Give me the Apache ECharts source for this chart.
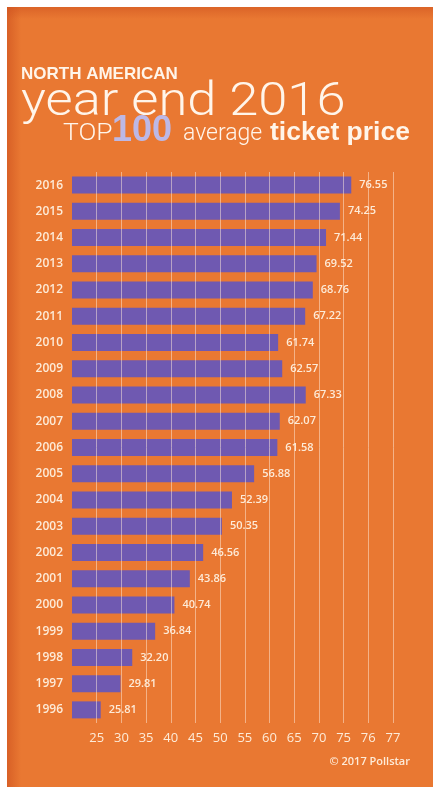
<!DOCTYPE html>
<html>
<head>
<meta charset="utf-8">
<script src="https://cdn.jsdelivr.net/npm/echarts@6/dist/echarts.min.js"></script>
<style>
  html, body { margin: 0; padding: 0; background: #ffffff; }
  #chart { width: 433px; height: 787px; }
</style>
</head>
<body>
<div id="chart"></div>
<script>
// ---- data ----
var years = ['2016','2015','2014','2013','2012','2011','2010','2009','2008','2007','2006',
             '2005','2004','2003','2002','2001','2000','1999','1998','1997','1996'];
var avgPrice = [76.55, 74.25, 71.44, 69.52, 68.76, 67.22, 61.74, 62.57, 67.33, 62.07, 61.58,
                56.88, 52.39, 50.35, 46.56, 43.86, 40.74, 36.84, 32.20, 29.81, 25.81];
var tickLabels = ['25','30','35','40','45','50','55','60','65','70','75','76','77'];

var cream = '#fdebd8';
var titleWhite = '#fff5ea';
var chart = echarts.init(document.getElementById('chart'), null, { renderer: 'canvas' });

var option = {
  backgroundColor: '#ffffff',
  animation: false,
  graphic: [
    { type: 'rect', z: -10, shape: { x: 7, y: 7, width: 426, height: 780 },
      style: { fill: '#e97832' } },
    { type: 'rect', z: -9, shape: { x: 7, y: 7, width: 14, height: 780 },
      style: { fill: { type: 'linear', x: 0, y: 0, x2: 1, y2: 0,
        colorStops: [{ offset: 0, color: 'rgba(205,80,30,0.6)' }, { offset: 1, color: 'rgba(205,80,30,0)' }] } } },
    { type: 'rect', z: -9, shape: { x: 7, y: 7, width: 426, height: 12 },
      style: { fill: { type: 'linear', x: 0, y: 0, x2: 0, y2: 1,
        colorStops: [{ offset: 0, color: 'rgba(205,80,30,0.5)' }, { offset: 1, color: 'rgba(205,80,30,0)' }] } } },
    { type: 'text', x: 21, y: 74,
      style: { text: 'NORTH AMERICAN', font: 'bold 17px "Liberation Sans", Arial, sans-serif',
        fill: titleWhite, textAlign: 'left', textVerticalAlign: 'middle' } },
    { type: 'text', x: 21, y: 103, scaleX: 1.14,
      style: { text: 'year end 2016', font: '300 46px Roboto, "DejaVu Sans", sans-serif',
        fill: titleWhite, textAlign: 'left', textVerticalAlign: 'middle' } },
    { type: 'text', x: 63, y: 134, scaleX: 1.1,
      style: { text: 'TOP', font: '300 24px Roboto, "DejaVu Sans", sans-serif',
        fill: titleWhite, textAlign: 'left', textVerticalAlign: 'middle' } },
    { type: 'text', x: 112, y: 131,
      style: { text: '100', font: 'bold 36px "Liberation Sans", Arial, sans-serif',
        fill: '#bdb8e6', textAlign: 'left', textVerticalAlign: 'middle' } },
    { type: 'text', x: 183, y: 134,
      style: { text: 'average', font: '300 23px Roboto, "DejaVu Sans", sans-serif',
        fill: titleWhite, textAlign: 'left', textVerticalAlign: 'middle' } },
    { type: 'text', x: 270, y: 133, scaleX: 1.06,
      style: { text: 'ticket price', font: '900 25px "Liberation Sans", Arial, sans-serif',
        fill: titleWhite, textAlign: 'left', textVerticalAlign: 'middle' } },
    { type: 'text', x: 410, y: 762,
      style: { text: '\u00a9 2017 Pollstar', font: '600 11px "Open Sans", sans-serif',
        fill: cream, textAlign: 'right', textVerticalAlign: 'middle' } }
  ],
  grid: { left: 72, right: 40, top: 172, bottom: 64, containLabel: false },
  xAxis: {
    type: 'value',
    min: 20, max: 85, interval: 5,
    z: 5,
    axisLine: { show: false },
    axisTick: { show: false },
    axisLabel: {
      color: cream, fontSize: 13, fontFamily: '"Open Sans", sans-serif', margin: 9,
      formatter: function (v) {
        var i = Math.round((v - 25) / 5);
        return (i >= 0 && i < tickLabels.length) ? tickLabels[i] : '';
      }
    },
    splitLine: { show: true, showMinLine: false,
      lineStyle: { color: 'rgba(255,235,220,0.5)', width: 1 } }
  },
  yAxis: {
    type: 'category',
    data: years,
    inverse: true,
    axisLine: { show: false },
    axisTick: { show: false },
    axisLabel: { color: cream, fontSize: 12, fontWeight: 600,
      fontFamily: '"Open Sans", sans-serif', margin: 9 }
  },
  series: [{
    type: 'bar',
    data: avgPrice,
    barWidth: 17,
    itemStyle: { color: '#6f59b1' },
    label: {
      show: true, position: 'right', distance: 8,
      color: cream, fontSize: 11, fontWeight: 600, fontFamily: '"Open Sans", sans-serif',
      formatter: function (p) { return p.value.toFixed(2); }
    }
  }]
};
chart.setOption(option);
</script>
</body>
</html>
